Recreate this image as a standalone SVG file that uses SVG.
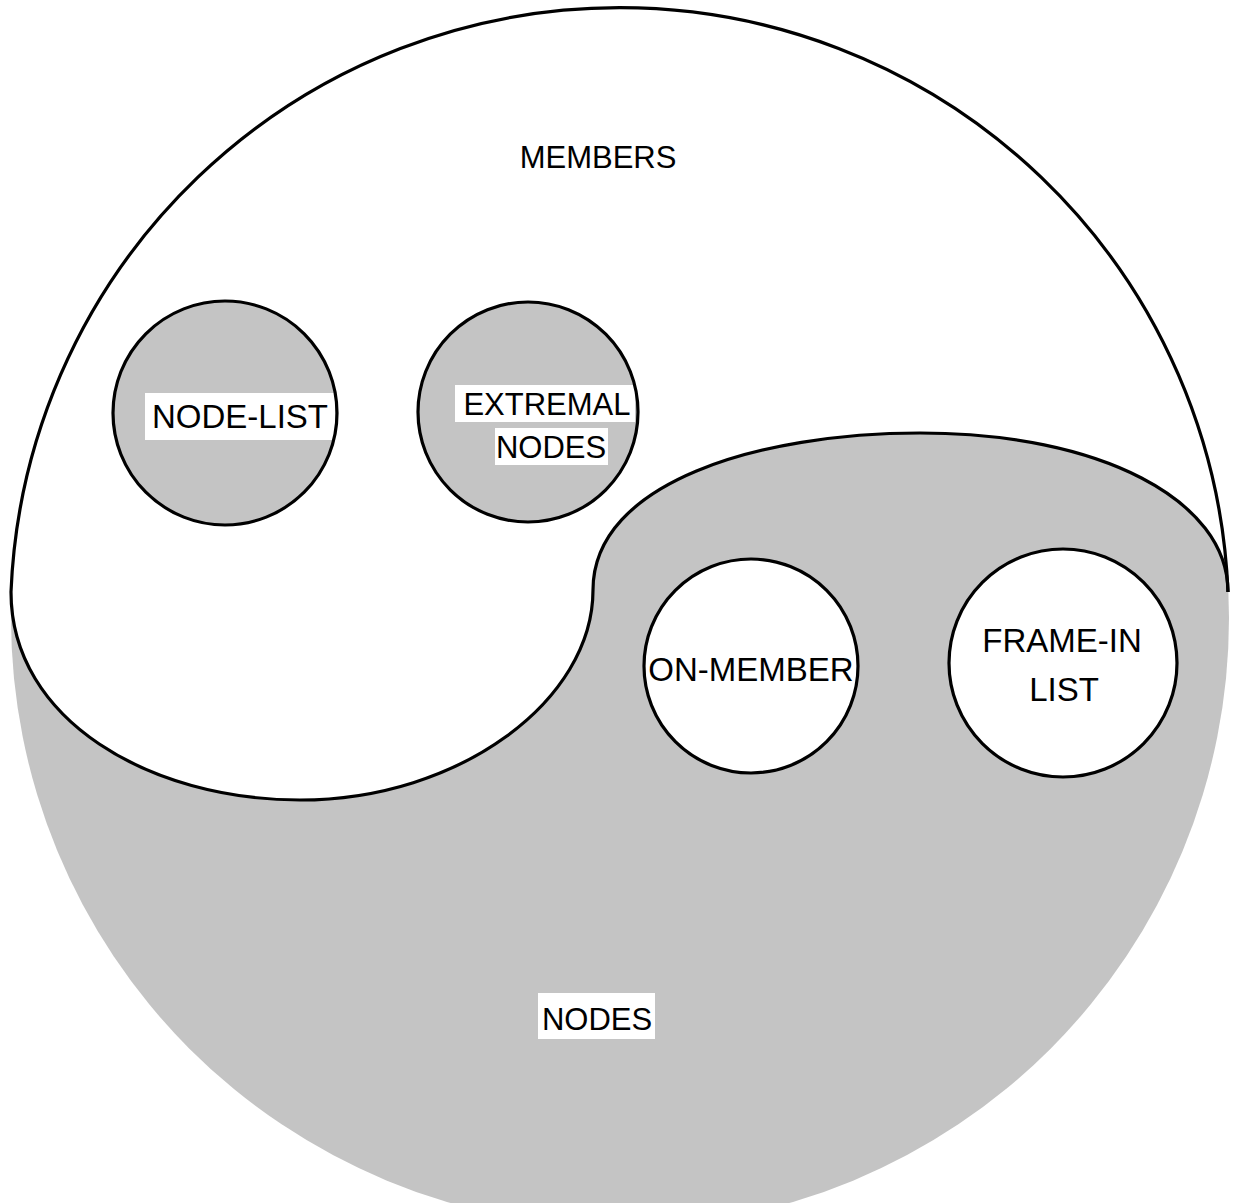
<svg xmlns="http://www.w3.org/2000/svg" width="1239" height="1203" viewBox="0 0 1239 1203">
<style>
.ln{stroke:#000;stroke-width:3.2;fill:none}
.sh{fill:#c4c4c4}
.wh{fill:#fff}
text{font-family:"Liberation Sans",Arial,sans-serif;fill:#000;text-anchor:middle}
</style>
<rect width="1239" height="1203" fill="#fff"/>
<g id="nodes-region">
<circle cx="620" cy="618" r="609" class="sh"/>
<rect x="538" y="993" width="117" height="46" class="wh"/>
<text x="597" y="1030" font-size="31">NODES</text>
</g>
<g id="members-region">
<path d="M11,592 C11,720 150,800 300,800 C460,800 593,700 593,590 C593,482 760,433 920,433 C1100,433 1228,500 1228,592 A609,609 0 0 0 11,592 Z" class="wh"/>
<text x="598" y="168" font-size="31">MEMBERS</text>
</g>
<g id="outlines">
<path d="M1228,592 A609,609 0 0 0 11,592" class="ln"/>
<path d="M11,592 C11,720 150,800 300,800 C460,800 593,700 593,590 C593,482 760,433 920,433 C1100,433 1228,500 1228,592" class="ln"/>
</g>
<g id="node-list">
<circle cx="225" cy="413" r="112" class="sh"/>
<rect x="145" y="393" width="190" height="47" class="wh"/>
<circle cx="225" cy="413" r="112" class="ln"/>
<text x="240" y="428" font-size="33">NODE-LIST</text>
</g>
<g id="extremal-nodes">
<circle cx="528" cy="412" r="110" class="sh"/>
<rect x="455" y="385" width="180" height="37" class="wh"/>
<rect x="495" y="428" width="113" height="37" class="wh"/>
<circle cx="528" cy="412" r="110" class="ln"/>
<text x="547" y="415" font-size="31">EXTREMAL</text>
<text x="551" y="458" font-size="31">NODES</text>
</g>
<g id="on-member">
<circle cx="751" cy="666" r="107" class="wh"/>
<circle cx="751" cy="666" r="107" class="ln"/>
<text x="751" y="681" font-size="33">ON-MEMBER</text>
</g>
<g id="frame-in-list">
<circle cx="1063" cy="663" r="114" class="wh"/>
<circle cx="1063" cy="663" r="114" class="ln"/>
<text x="1062" y="652" font-size="33">FRAME-IN</text>
<text x="1064" y="701" font-size="33">LIST</text>
</g>
</svg>
